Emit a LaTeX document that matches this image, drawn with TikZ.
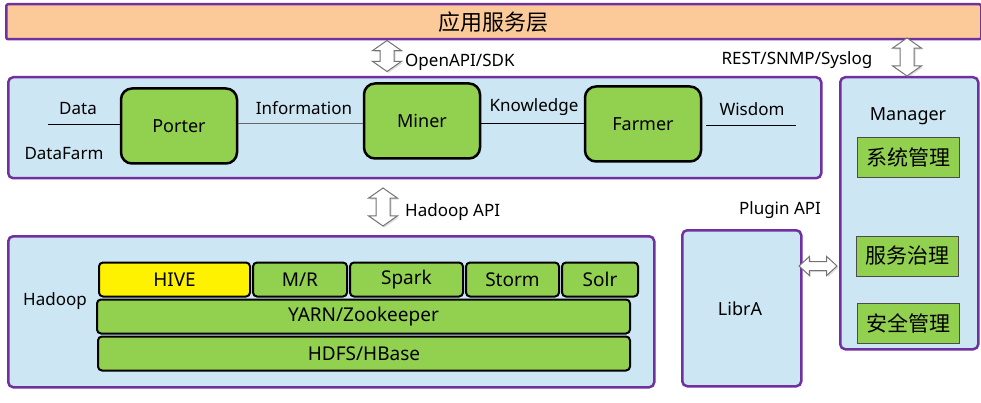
\documentclass[tikz,border=0pt]{standalone}
\usepackage{fontspec}
\setmainfont{Noto Sans}
\newfontfamily\cjk{Noto Sans CJK SC}
\usetikzlibrary{shapes.arrows,positioning,shadows}
\definecolor{layerpurple}{HTML}{7030A0}
\definecolor{layerblue}{HTML}{CCE6F3}
\definecolor{modgreen}{HTML}{92D050}
\definecolor{apppeach}{HTML}{FBCA98}

\begin{document}
\begin{tikzpicture}[x=1pt, y=-1pt,
  layer/.style={draw=layerpurple, line width=2.5pt, fill=layerblue, rounded corners=5pt, anchor=north west, inner sep=0pt},
  worker/.style={draw=black, line width=2.5pt, fill=modgreen, rounded corners=11pt, minimum width=116pt, minimum height=75pt, font=\fontsize{18}{20}\selectfont},
  stack/.style={draw=black, line width=2pt, fill=modgreen, rounded corners=4pt, minimum height=34pt, inner sep=0pt, font=\fontsize{19}{21}\selectfont},
  mgr/.style={draw=black!70, line width=0.8pt, fill=modgreen, minimum width=102pt, minimum height=40pt, font=\cjk\fontsize{21}{23}\selectfont},
  api/.style={double arrow, draw=black!55, fill=white, line width=1pt, double arrow head extend=7.5pt, double arrow tip angle=110, inner xsep=0pt, inner ysep=6.5pt, drop shadow={opacity=0.25, shadow xshift=1.5pt, shadow yshift=-1.5pt}},
  lbl/.style={font=\fontsize{17}{19}\selectfont, inner sep=0pt}]
\useasboundingbox (0,0) rectangle (981,403);

%layers
\node (App) [layer, fill=apppeach, rounded corners=2pt, minimum width=975pt, minimum height=35pt] at (5,3) {};
\node at (App.center) {\cjk\fontsize{22}{24}\selectfont 应用服务层};
\node (DF) [layer, minimum width=813pt, minimum height=101pt] at (7,76) {};
\node (HD) [layer, minimum width=646pt, minimum height=151pt] at (7,235) {};
\node (LA) [layer, minimum width=119pt, minimum height=156pt] at (681,229) {};
\node (MG) [layer, minimum width=138pt, minimum height=272pt] at (839,76) {};

%datafarm
\node (P) [worker] at (179,126) {Porter};
\node (M) [worker] at (422,121) {Miner};
\node (F) [worker] at (643,124) {Farmer};
\coordinate (dataIn) at (48,125);
\coordinate (wisOut) at (796,126);
\node (data) [lbl] at (78,109) {Data};
\node (dfname) [lbl] at (64,154) {DataFarm};
\node (info) [lbl] at (304,108) {Information};
\node (know) [lbl] at (534,107) {Knowledge};
\node (wis) [lbl] at (752,109) {Wisdom};

%hadoop
\node (hive) [stack, fill=yellow, minimum width=151pt] at (174.5,279.5) {HIVE};
\node (mr) [stack, minimum width=94pt, right=1pt of hive] {M/R};
\node (spark) [stack, minimum width=113pt, right=1pt of mr] {Spark};
\node (storm) [stack, minimum width=93pt, right=1pt of spark] {Storm};
\node (solr) [stack, minimum width=76pt, right=1pt of storm] {Solr};
\node (yarn) [stack, minimum width=533pt] at (363.5,316.5) {YARN/Zookeeper};
\node (hdfs) [stack, minimum width=532pt] at (364,353.5) {HDFS/HBase};
\node (hdname) [lbl] at (55,301) {Hadoop};

%librA and manager
\node (libra) [lbl, font=\fontsize{18}{20}\selectfont] at (740,309) {LibrA};
\node (mgname) [lbl, font=\fontsize{18}{20}\selectfont] at (908,116) {Manager};
\node (sys) [mgr] at (908,157) {系统管理};
\node (svc) [mgr] at (907,256) {服务治理};
\node (sec) [mgr] at (908,323) {安全管理};

%apis
\node (a1) [api, rotate=90, minimum height=31pt] at (387,56) {};
\node (a1l) [lbl, anchor=west] at (405,62) {OpenAPI/SDK};
\node (a2) [api, rotate=90, minimum height=38pt] at (907,57) {};
\node (a2l) [lbl] at (797,60) {REST/SNMP/Syslog};
\node (a3) [api, rotate=90, minimum height=38pt] at (383,207) {};
\node (a3l) [lbl, anchor=west] at (405,212) {Hadoop API};
\node (a4) [api, inner ysep=4pt, double arrow head extend=5pt, double arrow tip angle=85, minimum height=38pt] at (818,266) {};
\node (a4l) [lbl] at (780,210) {Plugin API};

%links
\draw[line width=1pt] (dataIn) -- (dataIn -| P.west);
\draw[line width=1pt, black!60] (P.east |- 0,124) -- (M.west |- 0,124);
\draw[line width=1pt] (M.east |- 0,124) -- (F.west |- 0,124);
\draw[line width=1pt] ([xshift=4pt]F.east |- wisOut) -- (wisOut);
\end{tikzpicture}
\end{document}
